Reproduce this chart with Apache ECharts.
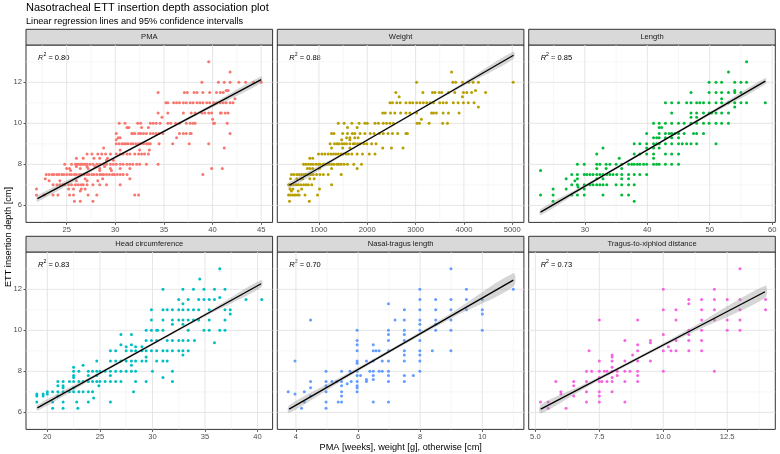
<!DOCTYPE html>
<html>
<head>
<meta charset="utf-8">
<script src="https://cdn.jsdelivr.net/npm/echarts@6/dist/echarts.min.js"></script>
<style>
html, body { margin: 0; padding: 0; background: #fff; }
#main { width: 780px; height: 454px; }
</style>
</head>
<body>
<div id="main"></div>
<script>
// panel names and R^2 values
var panelNames = ['PMA', 'Weight', 'Length', 'Head circumference', 'Nasal-tragus length', 'Tragus-to-xiphiod distance'];
var r2Values = ['0.80', '0.88', '0.85', '0.83', '0.70', '0.73'];
var colors = ['#F8766D', '#B79F00', '#00BA38', '#00BFC4', '#619CFF', '#F564E3'];

// axis ranges and ticks
var yRange = [5.17, 13.82];
var yTicks = [6, 8, 10, 12];
var yMinor = [7, 9, 11, 13];
var xRanges = [[20.82, 46.17], [137, 5242], [21.0, 60.5], [17.97, 41.43], [3.4, 11.34], [4.74, 14.38]];
var xTicks = [[25, 30, 35, 40, 45], [1000, 2000, 3000, 4000, 5000], [30, 40, 50, 60], [20, 25, 30, 35, 40], [4, 6, 8, 10], [5, 7.5, 10, 12.5]];
var xTickLabels = [['25', '30', '35', '40', '45'], ['1000', '2000', '3000', '4000', '5000'], ['30', '40', '50', '60'], ['20', '25', '30', '35', '40'], ['4', '6', '8', '10'], ['5.0', '7.5', '10.0', '12.5']];
var xMinor = [[22.5, 27.5, 32.5, 37.5, 42.5], [500, 1500, 2500, 3500, 4500], [25, 35, 45, 55], [22.5, 27.5, 32.5, 37.5], [5, 7, 9, 11], [6.25, 8.75, 11.25, 13.75]];

// points, grouped by depth: [depth, [x values]]
var pmaRows = [
  [13, [39.6]], [12.5, [41.8]],
  [12, [38.9, 40.6, 41.2, 41.8, 42.7, 43.4, 44.2, 45.0]],
  [11.6, [41.4, 41.6]],
  [11.5, [34.4, 37.1, 37.4, 38.1, 38.4, 39.0, 39.7, 40.4, 40.8, 41.1]],
  [11.2, [42.3]],
  [11, [35.2, 35.4, 36.0, 36.3, 36.6, 37.0, 37.3, 37.7, 38.0, 38.4, 38.7, 39.0, 39.4, 39.7, 40.1, 40.4, 40.8, 41.1, 41.4, 41.8, 42.1]],
  [10.5, [34.4, 35.4, 37.0, 37.8, 38.2, 38.9, 39.2, 39.6, 39.9, 40.8, 40.9, 41.3, 41.6]],
  [10.3, [34.8]], [10.2, [40.0]],
  [10, [30.4, 31.0, 32.3, 32.6, 33.6, 33.9, 34.2, 34.6, 35.4, 35.7, 36.2, 36.6, 37.3, 37.7, 38.0, 38.2, 40.1, 40.2, 41.5]],
  [9.8, [31.2, 31.4, 32.7, 33.4]],
  [9.5, [30.1, 31.7, 31.8, 32.0, 32.4, 32.6, 32.9, 33.2, 33.6, 33.9, 34.2, 34.5, 34.9, 36.6, 37.0, 37.3, 37.7, 37.8, 41.8]],
  [9.3, [30.3, 30.5, 36.3]], [9.2, [30.1]],
  [9, [30.1, 30.4, 30.7, 30.9, 31.1, 31.3, 31.6, 31.8, 32.1, 32.4, 32.6, 32.9, 33.2, 33.4, 33.6, 34.5, 35.9, 37.6, 39.6]],
  [8.8, [28.8, 41.2]], [8.7, [30.5, 32.5, 33.5]],
  [8.5, [27.1, 27.6, 28.2, 28.6, 29.0, 29.5, 30.1, 30.5, 30.8, 31.2, 31.5, 32.0, 32.4, 32.7, 33.0, 33.4]],
  [8.3, [26.0, 26.7, 27.8, 28.4, 29.2]], [8.2, [29.1, 29.8]],
  [8, [24.8, 25.5, 25.9, 26.0, 26.2, 26.4, 26.5, 26.7, 26.9, 27.1, 27.4, 27.7, 28.1, 28.4, 28.8, 29.1, 29.5, 29.8, 30.1, 30.5, 30.8, 31.2, 31.5, 31.8, 32.2, 32.5, 33.2, 34.4]],
  [7.9, [26.0, 27.1, 27.9, 28.9]],
  [7.8, [25.0, 25.3, 26.4, 27.2, 28.4, 29.5, 30.5, 31.5, 39.9, 41.0]],
  [7.7, [25.4, 28.4, 29.6]],
  [7.5, [22.9, 23.2, 23.5, 23.7, 24.0, 24.2, 24.5, 24.7, 25.0, 25.3, 25.5, 25.8, 26.0, 26.3, 26.5, 26.8, 27.1, 27.3, 27.6, 27.8, 28.1, 28.4, 28.6, 28.8, 29.1, 29.4, 29.7, 29.9, 30.2, 30.5, 30.8, 31.2, 39.0]],
  [7.3, [22.8, 26.9, 28.7, 31.5]], [7.2, [23.2, 24.3, 26.0, 27.1, 28.2]],
  [7, [23.6, 24.0, 24.3, 24.6, 24.8, 25.2, 25.5, 25.9, 26.2, 26.5, 26.7, 27.1, 27.7, 28.4, 29.1, 30.5]],
  [6.8, [21.9, 25.2, 25.7, 26.5, 26.9]], [6.7, [26.4]],
  [6.5, [21.9, 22.7, 23.6, 24.1, 25.3, 25.7, 27.2, 28.1, 32.0, 32.4]],
  [6.2, [25.8, 26.4, 27.7]]
];
var weightRows = [
  [12.5, [3745]],
  [12, [3020, 3770, 3830, 3970, 4100, 4190, 4300, 5020]],
  [11.6, [4240]],
  [11.5, [2590, 3150, 3350, 3400, 3490, 3540, 3680, 3810, 3990, 4060, 4160, 4450]],
  [11.3, [2660, 3970]],
  [11, [2470, 2520, 2610, 2680, 2800, 2880, 2940, 3020, 3090, 3160, 3230, 3300, 3370, 3500, 3570, 3640, 3780, 3880, 3990, 4090, 4210]],
  [10.8, [4300]],
  [10.5, [2320, 2370, 2480, 2570, 2690, 2800, 2880, 3020, 3330, 3370, 3430, 3570, 3680, 3900]],
  [10.2, [3120]],
  [10, [1400, 1520, 1680, 1830, 1950, 2000, 2160, 2230, 2330, 2400, 2470, 2540, 3030, 3080, 3280, 3560, 3660]],
  [9.8, [1590, 1790]],
  [9.5, [1260, 1310, 1490, 1590, 1690, 1740, 1850, 1950, 2060, 2140, 2250, 2330, 2430, 2520, 2630, 2800, 2830]],
  [9.3, [1570, 1640, 1740, 1810]], [9.2, [1470, 1640]],
  [9, [1230, 1320, 1370, 1410, 1470, 1520, 1570, 1640, 1710, 1740, 1800, 1850, 1930, 1990, 2090, 2180]],
  [8.8, [1260, 1490, 1640, 2320, 2500, 2740]],
  [8.5, [990, 1060, 1120, 1190, 1250, 1300, 1350, 1400, 1460, 1500, 1560, 1610, 1680, 1790, 1900, 2040, 2160]],
  [8.3, [810, 870]],
  [8, [680, 730, 780, 830, 880, 940, 990, 1020, 1080, 1120, 1170, 1210, 1260, 1310, 1370, 1410, 1460, 1520, 1590, 1720, 1880]],
  [7.8, [760, 810, 870, 1010, 1260, 1790]],
  [7.5, [430, 480, 540, 590, 640, 690, 730, 780, 830, 880, 950, 1020, 1090, 1190, 1460]],
  [7.3, [410, 540, 620, 660, 810, 900]],
  [7, [370, 410, 470, 520, 570, 620, 680, 730, 780, 850, 1260]],
  [6.8, [400, 460, 640, 1010]], [6.7, [430, 570]],
  [6.5, [370, 410, 460, 500, 550, 590, 710, 970]],
  [6.2, [390, 800]]
];
var lengthRows = [
  [13, [55.9]], [12.5, [53.0]],
  [12, [49.9, 51.0, 51.9, 54.0, 55.0, 55.9]],
  [11.6, [54.0]],
  [11.5, [47.0, 49.9, 51.0, 51.9, 53.0, 54.0, 55.0]],
  [11.2, [51.9]],
  [11, [42.9, 43.9, 45.0, 46.3, 47.0, 47.9, 48.4, 49.0, 49.9, 51.0, 51.9, 53.0, 54.0, 55.0, 55.9, 58.9]],
  [10.8, [54.0]],
  [10.5, [43.9, 47.0, 47.9, 49.0, 49.9, 50.3, 51.0, 51.9, 53.0]],
  [10.3, [47.0, 47.9]],
  [10, [41.0, 41.9, 42.9, 43.9, 45.0, 45.9, 47.0, 47.9, 49.0, 49.9, 51.0, 51.9, 53.0]],
  [9.8, [41.9, 42.3]],
  [9.5, [39.9, 41.9, 42.9, 43.5, 43.9, 44.4, 45.0, 45.9, 47.4, 47.9, 49.0]],
  [9.3, [41.0, 41.5, 41.9, 42.9, 43.9, 45.0]],
  [9, [37.9, 38.8, 39.9, 41.0, 41.5, 41.9, 42.9, 43.9, 45.0, 45.6, 46.3, 47.0, 47.9, 51.0]],
  [8.8, [32.9, 39.9, 41.0, 41.9]],
  [8.5, [31.9, 37.9, 38.8, 39.9, 41.0, 42.9, 43.9, 45.0]],
  [8.3, [35.5, 41.0]],
  [8, [28.8, 29.9, 31.9, 32.4, 33.4, 34.0, 35.0, 35.9, 37.0, 37.5, 37.9, 38.4, 38.8, 39.4, 39.9, 41.0, 41.5, 41.9, 42.9, 43.9, 45.0]],
  [7.8, [31.9, 33.4, 35.9]], [7.7, [22.9]],
  [7.5, [27.9, 28.8, 29.9, 30.3, 30.8, 31.3, 31.9, 32.4, 32.9, 33.5, 34.0, 34.5, 35.1, 35.9, 37.0, 37.9, 38.8, 39.9]],
  [7.3, [27.0, 28.8, 31.9, 32.9, 35.9, 37.0]], [7.2, [28.4]],
  [7, [27.9, 28.8, 29.9, 30.8, 31.3, 31.9, 32.4, 32.9, 33.5, 35.0, 35.9, 37.0, 37.9]],
  [6.9, [28.9]], [6.8, [24.9, 27.0, 29.9]],
  [6.5, [22.9, 24.9, 27.9, 28.8, 29.9, 32.9, 35.9, 37.0]],
  [6.2, [24.9, 37.9]]
];
var headRows = [
  [13, [36.4]], [12.5, [34.5]],
  [12, [31.0, 32.9, 33.9, 34.9, 35.9, 36.9]],
  [11.6, [36.4]],
  [11.5, [32.5, 33.4, 34.4, 34.9, 35.4, 35.9, 38.9, 40.4]],
  [11.3, [32.9]],
  [11, [29.9, 31.0, 31.4, 31.9, 32.5, 32.9, 33.4, 33.9, 34.4, 35.4, 36.9, 37.4]],
  [10.8, [37.4]],
  [10.5, [29.9, 31.0, 31.9, 32.5, 32.9, 33.4, 33.9, 34.4, 35.4, 36.9]],
  [10.3, [31.9, 32.9]],
  [10, [29.4, 29.9, 30.4, 30.5, 31.0, 33.4, 34.9, 35.4, 36.4, 36.9]],
  [9.8, [27.0, 28.0]],
  [9.5, [29.4, 29.9, 30.4, 31.4, 31.9, 32.5, 32.9, 33.4, 34.0]],
  [9.4, [35.9]], [9.3, [27.0, 28.0]], [9.2, [27.5, 28.4, 29.0]],
  [9, [26.0, 26.5, 27.5, 28.0, 28.4, 29.0, 29.4, 29.9, 30.4, 31.0, 31.4, 31.9, 32.5, 32.9, 33.4]],
  [8.8, [32.9]], [8.7, [29.4]],
  [8.5, [24.7, 26.0, 26.5, 27.0, 27.5, 28.0, 28.4, 29.0, 29.4, 30.4, 31.0, 31.4]],
  [8.3, [23.4, 28.0]], [8.2, [22.5]],
  [8, [22.5, 23.0, 23.9, 24.3, 24.7, 25.0, 25.5, 26.0, 26.5, 27.0, 27.5, 28.0, 28.4, 30.0, 31.9]],
  [7.8, [22.5, 23.9, 24.7, 26.0]], [7.7, [22.5, 31.0]],
  [7.5, [21.0, 21.5, 22.1, 22.5, 23.0, 23.4, 23.9, 24.3, 24.7, 25.0, 25.5, 26.0, 26.5, 27.0, 28.4, 29.4, 31.9]],
  [7.3, [21.0, 21.5, 24.9]], [7.2, [21.5, 22.5]],
  [7, [20.0, 20.5, 21.0, 21.5, 22.1, 22.5, 23.0, 23.4, 23.9, 24.3, 28.2]],
  [6.9, [19.0, 19.6, 20.0]], [6.8, [19.0, 19.6, 21.0]], [6.7, [24.4]],
  [6.5, [19.0, 20.5, 21.5, 22.8, 23.9, 26.0]],
  [6.2, [20.5, 21.5, 22.9]]
];
var nasalRows = [
  [13, [8.99]], [12, [7.99, 9.49, 11.0]],
  [11.5, [7.99, 8.5, 8.99, 9.49, 10.0]], [11.3, [6.98]],
  [11, [7.49, 7.99, 8.5, 8.99, 9.49, 10.0]], [10.8, [10.0]],
  [10.5, [4.47, 7.19, 7.49, 7.99, 8.5, 8.99]], [10.3, [7.99, 8.5]],
  [10, [5.97, 6.98, 7.49, 7.99, 8.5, 8.99, 10.0]], [9.8, [6.98, 7.49]],
  [9.5, [5.97, 6.98, 7.49, 7.99]], [9.3, [5.97, 6.49]],
  [9, [5.97, 6.49, 6.58, 6.68, 6.98, 7.49, 7.99, 8.39, 8.99]],
  [8.8, [7.49, 7.99]],
  [8.5, [3.97, 5.97, 6.27, 6.49, 6.78, 6.98, 7.49, 7.99]], [8.4, [5.97]],
  [8, [4.97, 5.47, 5.74, 5.97, 6.38, 6.49, 6.68, 6.78, 6.98, 7.99]],
  [7.8, [5.97, 6.08, 6.49, 6.98, 7.49, 7.78]], [7.6, [6.27, 6.49]],
  [7.5, [4.47, 4.97, 5.16, 5.31, 5.47, 5.78, 5.97, 6.27, 6.98, 7.49]],
  [7.4, [5.65]], [7.3, [4.97, 5.47, 5.97]], [7.2, [4.47, 5.97]],
  [7, [3.75, 4.27, 4.97, 5.47, 5.97]], [6.9, [3.97]], [6.8, [4.47, 5.47]],
  [6.5, [4.27, 4.97, 5.36, 5.47, 6.49, 6.98]], [6.2, [4.18, 4.97]]
];
var tragusRows = [
  [13, [13.0]], [12, [10.0, 12.0]],
  [11.5, [11.0, 11.5, 12.0, 12.5, 13.0, 14.0]], [11.3, [11.0]],
  [11, [10.0, 10.5, 11.5, 12.0, 13.0, 14.0]],
  [10.5, [7.5, 9.0, 10.5, 11.5, 12.0, 12.5, 13.0]],
  [10, [11.0, 11.5, 12.5, 13.0]], [9.8, [10.0, 11.0]],
  [9.5, [8.5, 9.5, 10.5, 11.0, 11.5]], [9.4, [9.5]], [9.3, [9.0]], [9.2, [10.2]],
  [9, [7.1, 9.0, 10.0, 10.3, 10.5, 11.0, 11.5]],
  [8.8, [8.0, 8.8]], [8.7, [8.0]],
  [8.5, [7.5, 8.0, 8.5, 9.0, 9.5]], [8.2, [8.0]],
  [8, [7.0, 7.2, 7.5, 7.7, 7.8, 8.0, 8.2, 8.5, 8.7, 9.0, 10.0, 12.0]],
  [7.8, [8.2, 9.0]], [7.7, [7.5, 8.0]],
  [7.5, [5.8, 6.5, 7.0, 7.5, 7.6, 7.8, 8.0, 8.5, 9.0]], [7.3, [6.5]],
  [7, [6.0, 7.0, 7.5, 8.0]], [6.9, [6.0]], [6.8, [6.5, 7.5]],
  [6.5, [5.2, 5.5, 7.0, 7.5, 8.5]], [6.2, [5.5, 6.2]]
];
var pointRows = [pmaRows, weightRows, lengthRows, headRows, nasalRows, tragusRows];

// regression line end points
var fitLines = [
  [[22.0, 6.33], [45.0, 12.13]],
  [[385, 6.98], [5027, 13.32]],
  [[22.9, 5.67], [58.9, 12.06]],
  [[19.05, 6.22], [40.34, 12.27]],
  [[3.78, 6.16], [11.0, 12.45]],
  [[5.21, 6.16], [13.98, 11.88]]
];
// confidence band: [x, lower, upper]
var bands = [
  [[22, 6.18, 6.48], [28, 7.77, 7.91], [33.5, 9.18, 9.28], [39, 10.54, 10.70], [45, 11.97, 12.29]],
  [[385, 6.83, 7.13], [1500, 8.44, 8.56], [2700, 10.09, 10.19], [3900, 11.70, 11.86], [5027, 13.14, 13.50]],
  [[22.9, 5.52, 5.82], [31, 7.04, 7.18], [40, 8.65, 8.76], [50, 10.41, 10.55], [58.9, 11.91, 12.21]],
  [[19.05, 6.08, 6.36], [25, 7.84, 7.98], [30, 9.27, 9.39], [35, 10.68, 10.82], [40.34, 12.09, 12.45]],
  [[3.78, 5.97, 6.35], [5.5, 7.55, 7.77], [7, 8.89, 9.04], [9, 10.58, 10.84], [11, 12.12, 12.78]],
  [[5.21, 5.95, 6.37], [7, 7.23, 7.43], [9, 8.56, 8.70], [11, 9.82, 10.06], [13.98, 11.58, 12.18]]
];

var FONT = '"Liberation Sans", Arial, Helvetica, sans-serif';
var lefts = [26, 277.3, 528.7];
var tops = [45, 252];
var W = 246.6, H = 177.4, STRIP = 15.7;

function flatten(rows) {
  var out = [];
  rows.forEach(function (r) {
    r[1].forEach(function (x) { out.push([x, r[0]]); });
  });
  return out;
}
function labelFor(i) {
  return function (v) {
    for (var k = 0; k < xTicks[i].length; k++) {
      if (Math.abs(xTicks[i][k] - v) < 1e-9) return xTickLabels[i][k];
    }
    return '';
  };
}

var grids = [], xAxes = [], yAxes = [], series = [], graphics = [];

panelNames.forEach(function (name, i) {
  var col = i % 3, row = Math.floor(i / 3);
  var L = lefts[col], T = tops[row];
  grids.push({ left: L, top: T, width: W, height: H, show: true,
    backgroundColor: '#fff', borderColor: '#333', borderWidth: 1 });
  xAxes.push({
    gridIndex: i, type: 'value', min: xRanges[i][0], max: xRanges[i][1],
    axisLine: { show: false, onZero: false },
    axisTick: { show: true, length: 2.5, lineStyle: { color: '#333', width: 0.8 }, customValues: xTicks[i] },
    axisLabel: { customValues: xTicks[i], formatter: labelFor(i), fontSize: 7.6, color: '#4D4D4D', margin: 4, fontFamily: FONT },
    splitLine: { show: false }
  });
  yAxes.push({
    gridIndex: i, type: 'value', min: yRange[0], max: yRange[1],
    axisLine: { show: false, onZero: false },
    axisTick: { show: col === 0, length: 2.5, lineStyle: { color: '#333', width: 0.8 }, customValues: yTicks },
    axisLabel: { show: col === 0, customValues: yTicks, fontSize: 7.6, color: '#4D4D4D', margin: 4, fontFamily: FONT },
    splitLine: { show: false }
  });

  // grid lines: kind 0 x major, 1 x minor, 2 y major, 3 y minor
  var gl = [];
  xTicks[i].forEach(function (v) { gl.push([v, 0]); });
  xMinor[i].forEach(function (v) { gl.push([v, 1]); });
  yTicks.forEach(function (v) { gl.push([v, 2]); });
  yMinor.forEach(function (v) { gl.push([v, 3]); });
  series.push({
    type: 'custom', xAxisIndex: i, yAxisIndex: i, silent: true, z: 1, data: gl,
    renderItem: function (params, api) {
      var v = api.value(0), kind = api.value(1), p1, p2;
      if (kind < 2) { p1 = api.coord([v, yRange[0]]); p2 = api.coord([v, yRange[1]]); }
      else { p1 = api.coord([xRanges[i][0], v]); p2 = api.coord([xRanges[i][1], v]); }
      return { type: 'line', shape: { x1: p1[0], y1: p1[1], x2: p2[0], y2: p2[1] },
        style: { stroke: kind % 2 ? '#F0F0F0' : '#E2E2E2', lineWidth: kind % 2 ? 0.6 : 0.9 } };
    }
  });
  series.push({
    type: 'scatter', xAxisIndex: i, yAxisIndex: i, silent: true, z: 2,
    symbolSize: 3, itemStyle: { color: colors[i], opacity: 1 },
    data: flatten(pointRows[i])
  });
  series.push({
    type: 'custom', xAxisIndex: i, yAxisIndex: i, silent: true, z: 3, data: bands[i],
    renderItem: function (params, api) {
      if (params.dataIndex !== 0) return null;
      var b = bands[i], pts = [];
      b.forEach(function (d) { pts.push(api.coord([d[0], d[1]])); });
      for (var k = b.length - 1; k >= 0; k--) pts.push(api.coord([b[k][0], b[k][2]]));
      return { type: 'polygon', shape: { points: pts, smooth: 0.3 }, style: { fill: 'rgba(153,153,153,0.4)' } };
    }
  });
  series.push({
    type: 'line', xAxisIndex: i, yAxisIndex: i, silent: true, z: 4,
    symbol: 'none', lineStyle: { color: '#000', width: 1.3 }, data: fitLines[i]
  });

  // strip
  graphics.push({ type: 'rect', shape: { x: L, y: T - STRIP, width: W, height: STRIP },
    style: { fill: '#D9D9D9', stroke: '#333', lineWidth: 1 } });
  graphics.push({ type: 'text', x: L + W / 2, y: T - STRIP / 2,
    style: { text: name, align: 'center', verticalAlign: 'middle', fontSize: 7.6, fontFamily: FONT, fill: '#1A1A1A' } });
  // R^2 label
  graphics.push({ type: 'text', x: L + 12, y: T + 12.5,
    style: { text: '{i|R}{s|2}{n| = ' + r2Values[i] + '}', verticalAlign: 'middle', fontFamily: FONT, fill: '#000',
      rich: {
        i: { fontSize: 7.5, fontStyle: 'italic', fontFamily: FONT, lineHeight: 10, verticalAlign: 'middle' },
        s: { fontSize: 5.2, fontFamily: FONT, lineHeight: 10, verticalAlign: 'top' },
        n: { fontSize: 7.5, fontFamily: FONT, lineHeight: 10, verticalAlign: 'middle' }
      } } });
});

graphics.push({ type: 'text', x: 26, y: 7.5,
  style: { text: 'Nasotracheal ETT insertion depth association plot', verticalAlign: 'middle', fontSize: 11, fontFamily: FONT, fill: '#000' } });
graphics.push({ type: 'text', x: 26, y: 21.3,
  style: { text: 'Linear regression lines and 95% confidence intervalls', verticalAlign: 'middle', fontSize: 9.2, fontFamily: FONT, fill: '#000' } });
graphics.push({ type: 'text', x: 8, y: 237, rotation: Math.PI / 2,
  style: { text: 'ETT insertion depth [cm]', align: 'center', verticalAlign: 'middle', fontSize: 9.2, fontFamily: FONT, fill: '#000' } });
graphics.push({ type: 'text', x: 400.7, y: 447,
  style: { text: 'PMA [weeks], weight [g], otherwise [cm]', align: 'center', verticalAlign: 'middle', fontSize: 9.2, fontFamily: FONT, fill: '#000' } });

var myChart = echarts.init(document.getElementById('main'));
myChart.setOption({
  backgroundColor: '#fff',
  animation: false,
  grid: grids,
  xAxis: xAxes,
  yAxis: yAxes,
  series: series,
  graphic: { elements: graphics }
});
</script>
</body>
</html>
